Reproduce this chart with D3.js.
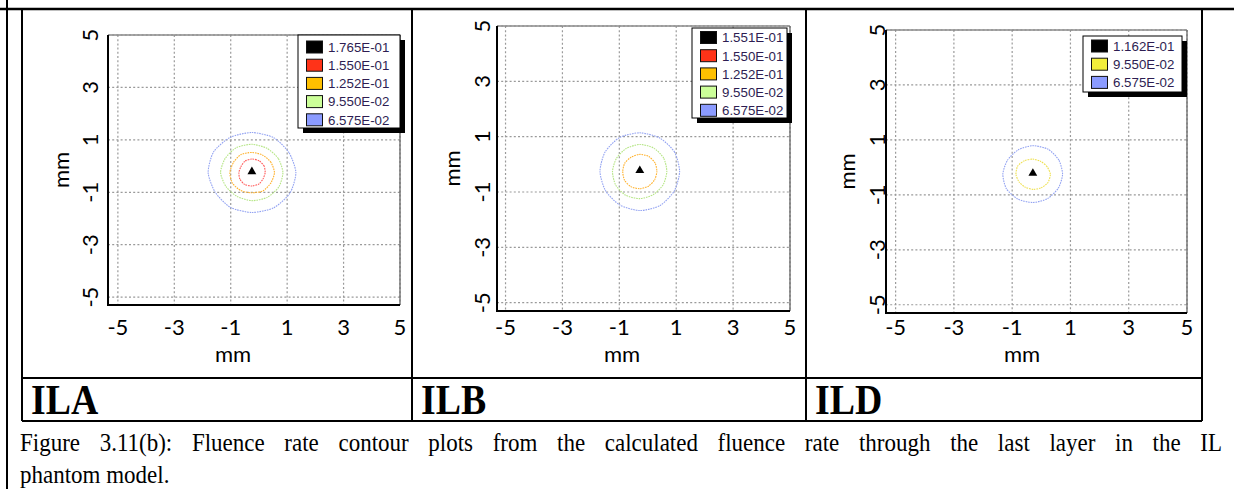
<!DOCTYPE html>
<html><head><meta charset="utf-8">
<script src="https://cdn.jsdelivr.net/npm/d3@7"></script>
<style>body{margin:0;background:#fff}svg{display:block}</style>
</head><body>
<svg id="c" width="1234" height="489"></svg>
<script>
// ---------------- data ----------------
const panelNames = ["ILA", "ILB", "ILD"];
const xTicks = [-5, -3, -1, 1, 3, 5];
const yTicks = [-5, -3, -1, 1, 3, 5];
const axisTitle = "mm";

const ilaLevels = ["1.765E-01", "1.550E-01", "1.252E-01", "9.550E-02", "6.575E-02"];
const ilbLevels = ["1.551E-01", "1.550E-01", "1.252E-01", "9.550E-02", "6.575E-02"];
const ildLevels = ["1.162E-01", "9.550E-02", "6.575E-02"];

const ilaSwatch = ["#000000", "#ff3318", "#ffc000", "#ccff99", "#8b9bff"];
const ilbSwatch = ["#000000", "#ff3318", "#ffc000", "#ccff99", "#8b9bff"];
const ildSwatch = ["#000000", "#f2ee3a", "#8b9bff"];

// peak location (mm)
const ilaPeak = [-0.25, -0.25];
const ilbPeak = [-0.28, -0.26];
const ildPeak = [-0.29, -0.25];

// contour radii (mm) from the peak, at these angles (degrees)
const contourAngles = [0, 30, 60, 90, 120, 150, 180, 210, 240, 270, 300, 330];
const ilaRed    = [0.47, 0.50, 0.52, 0.52, 0.50, 0.45, 0.46, 0.49, 0.52, 0.51, 0.50, 0.46];
const ilaOrange = [0.80, 0.78, 0.77, 0.77, 0.79, 0.76, 0.78, 0.80, 0.79, 0.77, 0.80, 0.78];
const ilaGreen  = [1.10, 1.08, 1.07, 1.08, 1.10, 1.09, 1.11, 1.06, 1.05, 1.07, 1.09, 1.10];
const ilaBlue   = [1.56, 1.52, 1.54, 1.53, 1.55, 1.57, 1.55, 1.50, 1.53, 1.52, 1.55, 1.56];
const ilbOrange = [0.60, 0.62, 0.63, 0.62, 0.60, 0.61, 0.60, 0.62, 0.63, 0.62, 0.61, 0.60];
const ilbGreen  = [0.95, 0.97, 0.98, 0.98, 0.96, 0.95, 0.96, 0.98, 0.99, 0.98, 0.96, 0.95];
const ilbBlue   = [1.40, 1.41, 1.40, 1.40, 1.42, 1.41, 1.40, 1.39, 1.40, 1.41, 1.42, 1.40];
const ildYellow = [0.60, 0.56, 0.54, 0.55, 0.57, 0.60, 0.58, 0.55, 0.54, 0.55, 0.57, 0.60];
const ildBlue   = [1.02, 1.03, 1.05, 1.04, 1.02, 1.01, 1.03, 1.05, 1.04, 1.03, 1.02, 1.01];

const ilaLineColors = ["#ff5a5a", "#ffb22e", "#b5e585", "#93a3f2"];
const ilbLineColors = ["#ffb22e", "#b5e585", "#93a3f2"];
const ildLineColors = ["#eee050", "#93a3f2"];

const captionLines = [
  "Figure 3.11(b): Fluence rate contour plots from the calculated fluence rate through the last layer in the IL",
  "phantom model."
];

// ---------------- layout ----------------
const panels = [
  { name: panelNames[0], levels: ilaLevels, swatch: ilaSwatch, peak: ilaPeak,
    contours: [ilaRed, ilaOrange, ilaGreen, ilaBlue], lineColors: ilaLineColors,
    x0: 108, x1: 400, y0: 35, y1: 305, xMin: -5.35, yMin: -5.3,
    legend: { x: 298, y: 35, w: 102, h: 93, first: 47 }, ylab: 90, ytitle: 62, xtitle: 233 },
  { name: panelNames[1], levels: ilbLevels, swatch: ilbSwatch, peak: ilbPeak,
    contours: [ilbOrange, ilbGreen, ilbBlue], lineColors: ilbLineColors,
    x0: 497, x1: 790, y0: 26, y1: 311, xMin: -5.3, yMin: -5.3,
    legend: { x: 692, y: 28, w: 95, h: 90, first: 37.5 }, ylab: 482, ytitle: 453, xtitle: 622 },
  { name: panelNames[2], levels: ildLevels, swatch: ildSwatch, peak: ildPeak,
    contours: [ildYellow, ildBlue], lineColors: ildLineColors,
    x0: 886, x1: 1187, y0: 30, y1: 313, xMin: -5.33, yMin: -5.3,
    legend: { x: 1083, y: 36, w: 99, h: 56, first: 46 }, ylab: 877, ytitle: 848, xtitle: 1022 }
];
const cellX = [22, 412, 806, 1202];

const svg = d3.select("#c");
const serif = "'Liberation Serif', 'Times New Roman', serif";

// ---------------- table lines ----------------
const lines = svg.append("g").attr("stroke", "#000").attr("fill", "none");
lines.append("line").attr("x1", 0).attr("x2", 1234).attr("y1", 9).attr("y2", 9).attr("stroke-width", 2.5);
lines.append("line").attr("x1", 7).attr("x2", 7).attr("y1", 0).attr("y2", 489).attr("stroke-width", 2);
cellX.forEach(x => lines.append("line").attr("x1", x).attr("x2", x).attr("y1", 9).attr("y2", 421).attr("stroke-width", 2));
[378, 421].forEach(y => lines.append("line").attr("x1", 22).attr("x2", 1202).attr("y1", y).attr("y2", y).attr("stroke-width", 2));

// ---------------- panels ----------------
panels.forEach((p, i) => {
  const x = d3.scaleLinear().domain([p.xMin, 5]).range([p.x0, p.x1]);
  const y = d3.scaleLinear().domain([p.yMin, 5]).range([p.y1, p.y0]);
  const g = svg.append("g");

  // grid
  const grid = g.append("g").attr("stroke", "#9a9a9a").attr("stroke-width", 1.2).attr("stroke-dasharray", "2,2.2");
  xTicks.forEach(t => grid.append("line").attr("x1", x(t)).attr("x2", x(t)).attr("y1", p.y0).attr("y2", p.y1));
  yTicks.forEach(t => grid.append("line").attr("x1", p.x0).attr("x2", p.x1).attr("y1", y(t)).attr("y2", y(t)));

  // frame
  g.append("line").attr("x1", p.x0).attr("x2", p.x1).attr("y1", p.y0).attr("y2", p.y0).attr("stroke", "#8a8a8a").attr("stroke-width", 1.3);
  g.append("line").attr("x1", p.x1).attr("x2", p.x1).attr("y1", p.y0).attr("y2", p.y1).attr("stroke", "#666").attr("stroke-width", 1.3);
  g.append("line").attr("x1", p.x0).attr("x2", p.x1).attr("y1", p.y1).attr("y2", p.y1).attr("stroke", "#000").attr("stroke-width", 2);
  g.append("line").attr("x1", p.x0).attr("x2", p.x0).attr("y1", p.y0).attr("y2", p.y1 + 1).attr("stroke", "#000").attr("stroke-width", 2);

  // contours
  const line = d3.line().curve(d3.curveCardinalClosed.tension(0.3));
  p.contours.forEach((radii, k) => {
    const pts = radii.map((r, j) => {
      const a = contourAngles[j] * Math.PI / 180;
      return [x(p.peak[0] + r * Math.cos(a)), y(p.peak[1] + r * Math.sin(a))];
    });
    g.append("path").attr("d", line(pts)).attr("fill", "none")
      .attr("stroke", p.lineColors[k]).attr("stroke-width", 1.1).attr("stroke-dasharray", "1.6,0.9");
  });

  // peak marker
  g.append("path").attr("d", d3.symbol(d3.symbolTriangle, 34)())
    .attr("transform", `translate(${x(p.peak[0])},${y(p.peak[1]) - 1})`).attr("fill", "#000");

  // tick labels
  const tf = "Lato, 'Open Sans', sans-serif";
  const fs = 22;
  xTicks.forEach(t => g.append("text").attr("x", x(t)).attr("y", 335)
    .attr("text-anchor", "middle").attr("font-family", tf).attr("font-size", fs).attr("fill", "#000").text(t));
  yTicks.forEach(t => g.append("text")
    .attr("transform", `translate(${p.ylab + 8},${y(t)}) rotate(-90)`)
    .attr("text-anchor", "middle").attr("font-family", tf).attr("font-size", fs).attr("fill", "#000").text(t));
  g.append("text").attr("x", p.xtitle).attr("y", 362).attr("text-anchor", "middle")
    .attr("font-family", tf).attr("font-size", fs).text(axisTitle);
  g.append("text").attr("transform", `translate(${p.ytitle + 7},${(p.y0 + p.y1) / 2}) rotate(-90)`)
    .attr("text-anchor", "middle").attr("font-family", tf).attr("font-size", fs).text(axisTitle);

  // legend
  const L = p.legend;
  g.append("rect").attr("x", L.x + 5).attr("y", L.y + 5).attr("width", L.w).attr("height", L.h).attr("fill", "#000");
  g.append("rect").attr("x", L.x).attr("y", L.y).attr("width", L.w).attr("height", L.h)
    .attr("fill", "#fff").attr("stroke", "#000").attr("stroke-width", 1);
  p.levels.forEach((lv, k) => {
    const cy = L.first + k * 18.2;
    g.append("rect").attr("x", L.x + 8.5).attr("y", cy - 6).attr("width", 16).attr("height", 12)
      .attr("fill", p.swatch[k]).attr("stroke", "#111").attr("stroke-width", 1);
    g.append("text").attr("x", L.x + 30).attr("y", cy + 4.8)
      .attr("font-family", "'Liberation Sans', Arial, sans-serif").attr("font-size", 13.3)
      .attr("fill", "#2e1d52").text(lv);
  });

  // row label (slightly condensed bold serif)
  svg.append("text").attr("transform", `translate(${cellX[i] + 9},414) scale(0.9,1)`)
    .attr("font-family", serif).attr("font-weight", "bold")
    .attr("font-size", 42).attr("fill", "#000").text(p.name);
});

// ---------------- caption (condensed serif, justified first line) ----------------
const sx = 0.92;
const capG = svg.append("g").attr("transform", `translate(20,0) scale(${sx},1)`);
const cap1 = capG.append("text").attr("x", 0).attr("y", 451).attr("font-family", serif)
  .attr("font-size", 25).attr("fill", "#000").text(captionLines[0]);
const natural = cap1.node().getComputedTextLength();
const spaces = (captionLines[0].match(/ /g) || []).length;
cap1.attr("word-spacing", Math.max(0, (1202 / sx) - natural) / spaces);
capG.append("text").attr("x", 0).attr("y", 483).attr("font-family", serif)
  .attr("font-size", 25).attr("fill", "#000").text(captionLines[1]);
</script>
</body></html>
